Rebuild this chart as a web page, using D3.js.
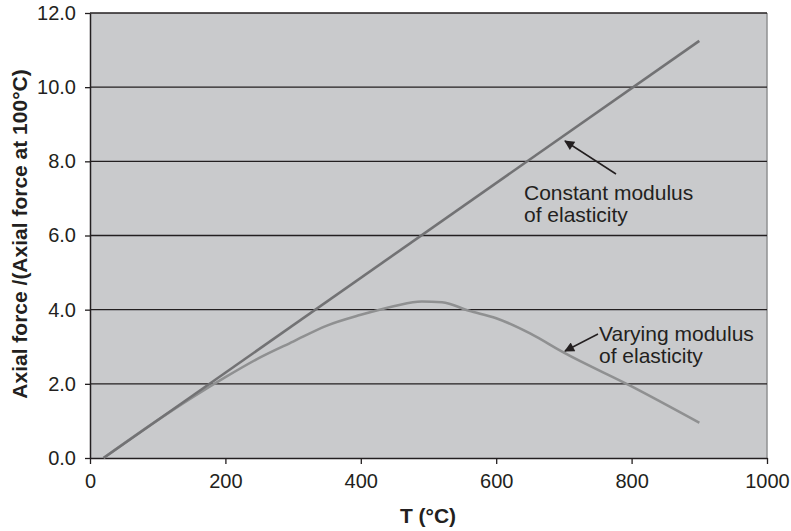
<!DOCTYPE html>
<html>
<head>
<meta charset="utf-8">
<script src="https://cdn.jsdelivr.net/npm/d3@7"></script>
<style>
  html, body { margin: 0; padding: 0; background: #ffffff; }
  svg { display: block; }
  text { font-family: "Liberation Sans", Arial, Helvetica, sans-serif; fill: #231f20; }
</style>
</head>
<body>
<svg id="chart" width="791" height="531"></svg>
<script>
// Temperature (°C) and normalised axial force for the two cases
const constantT = [20, 900];
const constantForce = [0, 11.25];

const varyingT = [20, 100, 150, 200, 250, 300, 350, 400, 450, 490, 520, 560, 600, 650, 700, 800, 900];
const varyingForce = [0, 1.02, 1.62, 2.18, 2.7, 3.14, 3.57, 3.86, 4.1, 4.22, 4.2, 3.97, 3.77, 3.36, 2.84, 1.93, 0.95];

const xTicks = [0, 200, 400, 600, 800, 1000];
const yTicks = [0, 2, 4, 6, 8, 10, 12];

const xTitle = "T (°C)";
const yTitle = "Axial force /(Axial force at 100°C)";

const svg = d3.select("#chart");
const plot = { left: 90, right: 767, top: 13, bottom: 458 };

const x = d3.scaleLinear().domain([0, 1000]).range([plot.left, plot.right]);
const y = d3.scaleLinear().domain([0, 12]).range([plot.bottom, plot.top]);

// plot background
svg.append("rect")
  .attr("x", plot.left).attr("y", plot.top)
  .attr("width", plot.right - plot.left).attr("height", plot.bottom - plot.top)
  .attr("fill", "#c9cacc");

// right edge of the plot area
svg.append("line")
  .attr("x1", plot.right).attr("x2", plot.right)
  .attr("y1", plot.top).attr("y2", plot.bottom)
  .attr("stroke", "#8f9092").attr("stroke-width", 1.5);

// horizontal gridlines
svg.append("g").selectAll("line").data(yTicks.filter(d => d > 0)).join("line")
  .attr("x1", plot.left).attr("x2", plot.right)
  .attr("y1", d => y(d)).attr("y2", d => y(d))
  .attr("stroke", "#231f20").attr("stroke-width", 1.3);

// axes
const xAxis = svg.append("g")
  .attr("transform", `translate(0,${plot.bottom})`)
  .call(d3.axisBottom(x).tickValues(xTicks).tickFormat(d3.format("d")).tickSize(6).tickSizeOuter(0).tickPadding(5));
const yAxis = svg.append("g")
  .attr("transform", `translate(${plot.left},0)`)
  .call(d3.axisLeft(y).tickValues(yTicks).tickFormat(d3.format(".1f")).tickSize(5).tickSizeOuter(0).tickPadding(9));

[xAxis, yAxis].forEach(g => {
  g.select(".domain").attr("stroke", "#231f20").attr("stroke-width", 1.5);
  g.selectAll(".tick line").attr("stroke", "#231f20").attr("stroke-width", 1.3);
  g.selectAll(".tick text")
    .attr("fill", "#231f20")
    .style("font-family", '"Liberation Sans", Arial, sans-serif')
    .style("font-size", "20px");
});
xAxis.selectAll(".tick text").attr("dy", "0.95em");

// series
const line = d3.line().x(d => x(d[0])).y(d => y(d[1])).curve(d3.curveMonotoneX);

svg.append("path")
  .datum(varyingT.map((t, i) => [t, varyingForce[i]]))
  .attr("d", line)
  .attr("fill", "none").attr("stroke", "#8f9091").attr("stroke-width", 2.6)
  .attr("stroke-linejoin", "round");

svg.append("path")
  .datum(constantT.map((t, i) => [t, constantForce[i]]))
  .attr("d", d3.line().x(d => x(d[0])).y(d => y(d[1])))
  .attr("fill", "none").attr("stroke", "#727274").attr("stroke-width", 2.6);

// axis titles
svg.append("text")
  .attr("x", 428).attr("y", 523)
  .attr("text-anchor", "middle")
  .style("font-size", "21px").style("font-weight", "bold")
  .text(xTitle);

svg.append("text")
  .attr("transform", "translate(27,234) rotate(-90)")
  .attr("text-anchor", "middle")
  .style("font-size", "21px").style("font-weight", "bold")
  .text(yTitle);

// annotations with arrows
const defs = svg.append("defs");
defs.append("marker")
  .attr("id", "arrowhead")
  .attr("viewBox", "0 0 10 10")
  .attr("refX", 9).attr("refY", 5)
  .attr("markerWidth", 12).attr("markerHeight", 10)
  .attr("markerUnits", "userSpaceOnUse")
  .attr("orient", "auto")
  .append("path").attr("d", "M0,0 L10,5 L0,10 z").attr("fill", "#231f20");

const notes = [
  { lines: ["Constant modulus", "of elasticity"], tx: 524, ty: 200, from: [616, 174], to: [565, 141] },
  { lines: ["Varying modulus", "of elasticity"], tx: 599, ty: 341, from: [598, 334], to: [565, 351] }
];

notes.forEach(n => {
  svg.append("line")
    .attr("x1", n.from[0]).attr("y1", n.from[1])
    .attr("x2", n.to[0]).attr("y2", n.to[1])
    .attr("stroke", "#231f20").attr("stroke-width", 1.5)
    .attr("marker-end", "url(#arrowhead)");
  const t = svg.append("text")
    .attr("x", n.tx).attr("y", n.ty)
    .style("font-size", "21px");
  n.lines.forEach((s, i) => {
    t.append("tspan").attr("x", n.tx).attr("dy", i === 0 ? 0 : 22).text(s);
  });
});
</script>
</body>
</html>
